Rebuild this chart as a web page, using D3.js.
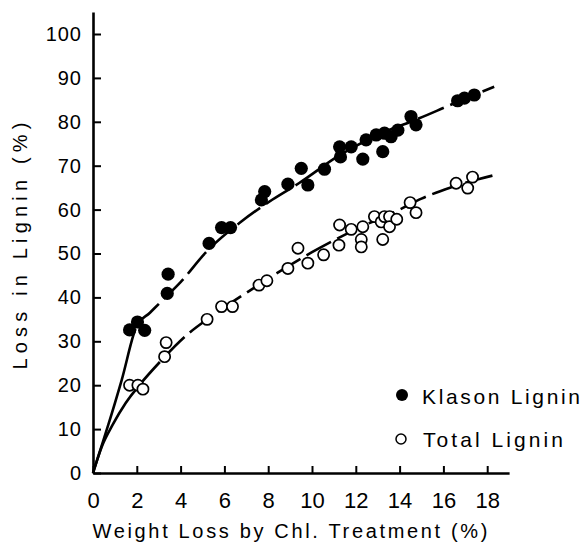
<!DOCTYPE html>
<html>
<head>
<meta charset="utf-8">
<script src="https://cdn.jsdelivr.net/npm/d3@7"></script>
<style>
  body { margin: 0; background: #fff; }
  svg { display: block; }
  text { font-family: "Liberation Sans", Arial, sans-serif; fill: #000; }
</style>
</head>
<body>
<svg id="chart" width="585" height="551"></svg>
<script>
// Klason lignin (filled dots): [weight loss %, loss in lignin %]
var klasonPts = [
  [1.67, 32.6], [2.03, 34.4], [2.36, 32.5], [3.39, 40.9], [3.43, 45.3],
  [5.30, 52.3], [5.87, 55.9], [6.28, 55.9], [7.69, 62.2], [7.84, 64.1],
  [8.90, 65.8], [9.51, 69.4], [9.81, 65.6], [10.57, 69.2], [11.26, 74.3],
  [11.30, 72.0], [11.79, 74.3], [12.32, 71.5], [12.47, 75.9], [12.93, 77.0],
  [13.23, 73.2], [13.31, 77.4], [13.61, 76.6], [13.92, 78.1], [14.52, 81.2],
  [14.75, 79.3], [16.65, 84.8], [16.96, 85.4], [17.41, 86.1]
]
// Total lignin (open dots)
var totalPts = [
  [1.67, 20.0], [2.05, 20.0], [2.28, 19.1], [3.27, 26.5], [3.34, 29.7],
  [5.21, 35.0], [5.87, 37.9], [6.37, 37.9], [7.58, 42.8], [7.94, 43.8],
  [8.90, 46.6], [9.36, 51.2], [9.81, 47.8], [10.53, 49.7], [11.23, 51.9],
  [11.26, 56.5], [11.79, 55.5], [12.25, 53.2], [12.25, 51.5], [12.32, 56.1],
  [12.85, 58.4], [13.16, 57.2], [13.31, 58.4], [13.23, 53.2], [13.54, 58.4],
  [13.54, 56.1], [13.87, 57.8], [14.48, 61.6], [14.75, 59.3], [16.58, 66.0],
  [17.11, 64.9], [17.33, 67.4]
]
// hand drawn fitted curves
var klasonCurve = [
  [0, 0], [0.35, 5.5], [0.7, 11], [1.3, 21], [2.0, 33.5], [2.6, 36.5], [3.2, 39.5],
  [4, 43.5], [5.2, 50.5], [6.7, 57], [8.2, 62.3], [9.4, 66], [11.3, 72.5],
  [13, 77], [14.9, 80.8], [16.3, 83.8], [18.32, 88]
]
var totalCurve = [
  [0, 0], [0.4, 6], [0.9, 11], [1.5, 16], [2.2, 20.5], [3.0, 25], [4.3, 31.5],
  [5.5, 36], [7.3, 42], [10, 50.3], [11, 53], [12, 55.5], [14, 60], [15, 62.5],
  [16.3, 65], [18.45, 68]
]
var xTicks = [0, 2, 4, 6, 8, 10, 12, 14, 16, 18]
var yTicks = [0, 10, 20, 30, 40, 50, 60, 70, 80, 90, 100]
var legendItems = ["Klason Lignin", "Total Lignin"]

var svg = d3.select("#chart")

// scales (axes run a bit beyond the last tick, as in the figure)
var x = d3.scaleLinear().domain([0, 19]).range([93, 93 + 19 * 21.9])
var y = d3.scaleLinear().domain([0, 105]).range([473, 473 - 105 * 4.39])

// y axis, ticks pointing inward
var yAxis = svg.append("g")
  .attr("transform", "translate(" + x(0) + ",0)")
  .call(d3.axisLeft(y).tickValues(yTicks).tickSizeInner(-8).tickSizeOuter(0).tickPadding(11))
yAxis.select(".domain").attr("stroke-width", 2.6)
yAxis.selectAll(".tick line").attr("stroke-width", 2)
yAxis.selectAll(".tick text")
  .style("font-family", "Liberation Sans, Arial, sans-serif")
  .style("font-size", "20px")
  .attr("letter-spacing", 1)

// x axis
var xAxis = svg.append("g")
  .attr("transform", "translate(0," + y(0) + ")")
  .call(d3.axisBottom(x).tickValues(xTicks).tickSizeInner(-7).tickSizeOuter(0).tickPadding(19))
xAxis.select(".domain").attr("stroke-width", 2.6)
xAxis.selectAll(".tick line").attr("stroke-width", 2)
xAxis.selectAll(".tick text")
  .style("font-family", "Liberation Sans, Arial, sans-serif")
  .style("font-size", "22px")

// axis titles
svg.append("text")
  .attr("x", 290).attr("y", 538)
  .attr("text-anchor", "middle")
  .attr("textLength", 395).attr("lengthAdjust", "spacing")
  .style("font-size", "20px")
  .text("Weight Loss by Chl. Treatment (%)")

svg.append("text")
  .attr("transform", "translate(27,246) rotate(-90)")
  .attr("text-anchor", "middle")
  .attr("textLength", 247).attr("lengthAdjust", "spacing")
  .style("font-size", "20px")
  .text("Loss in Lignin (%)")

// curves: solid near the origin, long dashes after
var line = d3.line()
  .x(function(d) { return x(d[0]) })
  .y(function(d) { return y(d[1]) })
  .curve(d3.curveMonotoneX)

function drawCurve(data, solidLen) {
  var p = svg.append("path")
    .datum(data)
    .attr("d", line)
    .attr("fill", "none")
    .attr("stroke", "#000")
    .attr("stroke-width", 2.6)
  var total = p.node().getTotalLength()
  var dash = [solidLen, 7]
  var sum = solidLen + 7
  while (sum < total) { dash.push(28, 7); sum += 35 }
  p.attr("stroke-dasharray", dash.join(","))
}
drawCurve(klasonCurve, 150)
drawCurve(totalCurve, 96)

// points
svg.append("g").selectAll("circle")
  .data(totalPts)
  .join("circle")
  .attr("cx", function(d) { return x(d[0]) })
  .attr("cy", function(d) { return y(d[1]) })
  .attr("r", 5.6)
  .attr("fill", "#fff")
  .attr("stroke", "#000")
  .attr("stroke-width", 1.7)

svg.append("g").selectAll("circle")
  .data(klasonPts)
  .join("circle")
  .attr("cx", function(d) { return x(d[0]) })
  .attr("cy", function(d) { return y(d[1]) })
  .attr("r", 6.6)
  .attr("fill", "#000")

// legend
var legend = svg.append("g")
legend.append("circle").attr("cx", 402).attr("cy", 395).attr("r", 6).attr("fill", "#000")
legend.append("circle").attr("cx", 401).attr("cy", 439).attr("r", 5)
  .attr("fill", "#fff").attr("stroke", "#000").attr("stroke-width", 1.5)
legend.append("text").attr("x", 422).attr("y", 404)
  .attr("textLength", 158).attr("lengthAdjust", "spacing")
  .style("font-size", "21px").text(legendItems[0])
legend.append("text").attr("x", 423).attr("y", 447)
  .attr("textLength", 140).attr("lengthAdjust", "spacing")
  .style("font-size", "21px").text(legendItems[1])
</script>
</body>
</html>
